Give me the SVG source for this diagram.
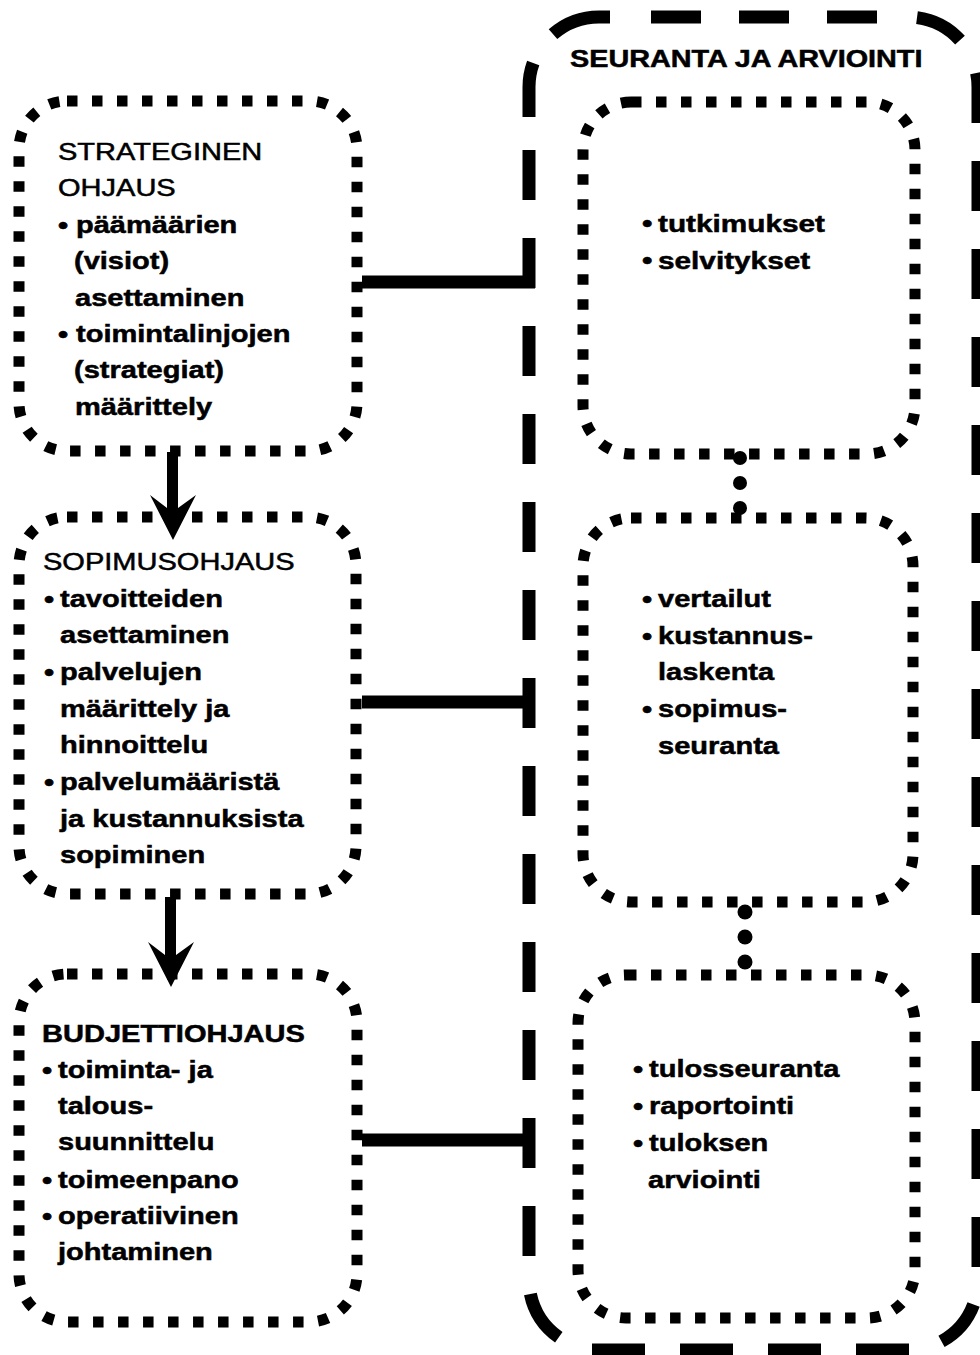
<svg xmlns="http://www.w3.org/2000/svg" width="980" height="1355" viewBox="0 0 980 1355">
<style>
text{font-family:"Liberation Sans",Arial,sans-serif;font-size:24px;fill:#000;stroke:#000;stroke-width:0.5}
.b{font-weight:bold}
.dot{fill:none;stroke:#000;stroke-width:11;stroke-dasharray:10.5 14.5}
.big{fill:none;stroke:#000;stroke-width:13}
.bd{stroke-dasharray:50 38}
.ln{stroke:#000;stroke-width:13;fill:none}
</style>
<rect width="980" height="1355" fill="#fff"/>
<g id="seuranta-ja-arviointi">
<line class="big bd" x1="529" y1="150" x2="529" y2="1256"/>
<path class="big" d="M529,117 L529,87 A70,70 0 0 1 533.2,63"/>
<path class="big" d="M553,34.2 A70,70 0 0 1 599,17 L610,17"/>
<line class="big bd" x1="651" y1="17" x2="879" y2="17"/>
<path class="big" d="M917,17.6 A70,70 0 0 1 960,40.2"/>
<path class="big" d="M976.6,73 A70,70 0 0 1 978,87 L978,123"/>
<line class="big bd" x1="978" y1="161" x2="978" y2="1267"/>
<path class="big" d="M973.6,1304.5 A70,70 0 0 1 941.5,1341.4"/>
<line class="big" x1="592" y1="1350" x2="915" y2="1350" stroke-dasharray="53 35"/>
<path class="big" d="M530.4,1294 A70,70 0 0 0 558.8,1337.3"/>
<text class="b" transform="matrix(1.2 0 0 1 570 67)">SEURANTA JA ARVIOINTI</text>
</g>
<g id="strateginen-ohjaus">
<rect class="dot" x="19" y="101" width="338" height="350" rx="48"/>
<text transform="matrix(1.21 0 0 1 58 160)">STRATEGINEN</text>
<text transform="matrix(1.21 0 0 1 58 196)">OHJAUS</text>
<text class="b" transform="matrix(1.21 0 0 1 58 233)">•</text>
<text class="b" transform="matrix(1.21 0 0 1 76 233)">päämäärien</text>
<text class="b" transform="matrix(1.21 0 0 1 74 269)">(visiot)</text>
<text class="b" transform="matrix(1.21 0 0 1 75 306)">asettaminen</text>
<text class="b" transform="matrix(1.21 0 0 1 58 342)">•</text>
<text class="b" transform="matrix(1.21 0 0 1 76 342)">toimintalinjojen</text>
<text class="b" transform="matrix(1.21 0 0 1 74 378)">(strategiat)</text>
<text class="b" transform="matrix(1.21 0 0 1 75 415)">määrittely</text>
</g>
<g id="sopimusohjaus">
<rect class="dot" x="19" y="517" width="337" height="377" rx="48"/>
<text transform="matrix(1.21 0 0 1 43 570)">SOPIMUSOHJAUS</text>
<text class="b" transform="matrix(1.21 0 0 1 44 607)">•</text>
<text class="b" transform="matrix(1.21 0 0 1 60 607)">tavoitteiden</text>
<text class="b" transform="matrix(1.21 0 0 1 60 643)">asettaminen</text>
<text class="b" transform="matrix(1.21 0 0 1 44 680)">•</text>
<text class="b" transform="matrix(1.21 0 0 1 60 680)">palvelujen</text>
<text class="b" transform="matrix(1.21 0 0 1 60 717)">määrittely ja</text>
<text class="b" transform="matrix(1.21 0 0 1 60 753)">hinnoittelu</text>
<text class="b" transform="matrix(1.21 0 0 1 44 790)">•</text>
<text class="b" transform="matrix(1.21 0 0 1 60 790)">palvelumääristä</text>
<text class="b" transform="matrix(1.21 0 0 1 60 827)">ja kustannuksista</text>
<text class="b" transform="matrix(1.21 0 0 1 60 863)">sopiminen</text>
</g>
<g id="budjettiohjaus">
<rect class="dot" x="19" y="974" width="338" height="348" rx="48"/>
<text class="b" transform="matrix(1.21 0 0 1 42 1042)">BUDJETTIOHJAUS</text>
<text class="b" transform="matrix(1.21 0 0 1 42 1078)">•</text>
<text class="b" transform="matrix(1.21 0 0 1 58 1078)">toiminta- ja</text>
<text class="b" transform="matrix(1.21 0 0 1 58 1114)">talous-</text>
<text class="b" transform="matrix(1.21 0 0 1 58 1150)">suunnittelu</text>
<text class="b" transform="matrix(1.21 0 0 1 42 1188)">•</text>
<text class="b" transform="matrix(1.21 0 0 1 58 1188)">toimeenpano</text>
<text class="b" transform="matrix(1.21 0 0 1 42 1224)">•</text>
<text class="b" transform="matrix(1.21 0 0 1 58 1224)">operatiivinen</text>
<text class="b" transform="matrix(1.21 0 0 1 58 1260)">johtaminen</text>
</g>
<g id="tutkimukset">
<rect class="dot" x="583" y="102" width="332" height="352" rx="48"/>
<text class="b" transform="matrix(1.24 0 0 1 642 232)">•</text>
<text class="b" transform="matrix(1.24 0 0 1 658 232)">tutkimukset</text>
<text class="b" transform="matrix(1.24 0 0 1 642 269)">•</text>
<text class="b" transform="matrix(1.24 0 0 1 658 269)">selvitykset</text>
</g>
<g id="vertailut">
<rect class="dot" x="583" y="518" width="330" height="384" rx="48"/>
<text class="b" transform="matrix(1.21 0 0 1 642 607)">•</text>
<text class="b" transform="matrix(1.21 0 0 1 658 607)">vertailut</text>
<text class="b" transform="matrix(1.21 0 0 1 642 644)">•</text>
<text class="b" transform="matrix(1.21 0 0 1 658 644)">kustannus-</text>
<text class="b" transform="matrix(1.21 0 0 1 658 680)">laskenta</text>
<text class="b" transform="matrix(1.21 0 0 1 642 717)">•</text>
<text class="b" transform="matrix(1.21 0 0 1 658 717)">sopimus-</text>
<text class="b" transform="matrix(1.21 0 0 1 658 754)">seuranta</text>
</g>
<g id="tulosseuranta">
<rect class="dot" x="578" y="975" width="337" height="343" rx="48"/>
<text class="b" transform="matrix(1.21 0 0 1 633 1077)">•</text>
<text class="b" transform="matrix(1.21 0 0 1 649 1077)">tulosseuranta</text>
<text class="b" transform="matrix(1.21 0 0 1 633 1114)">•</text>
<text class="b" transform="matrix(1.21 0 0 1 649 1114)">raportointi</text>
<text class="b" transform="matrix(1.21 0 0 1 633 1151)">•</text>
<text class="b" transform="matrix(1.21 0 0 1 649 1151)">tuloksen</text>
<text class="b" transform="matrix(1.21 0 0 1 648 1188)">arviointi</text>
</g>
<g id="connectors">
<line class="ln" x1="362" y1="282" x2="535" y2="282"/>
<line class="ln" x1="362" y1="702" x2="535" y2="702" stroke-width="14"/>
<line class="ln" x1="362" y1="1140" x2="535" y2="1140" stroke-width="14"/>
<path d="M167,452 L178,452 L178,508 L196,495 L173,540 L150,495 L167,508 Z" fill="#000"/>
<path d="M165,897 L176,897 L176,955 L194,942 L171,987 L148,942 L165,955 Z" fill="#000"/>
<circle cx="740" cy="458" r="7" fill="#000"/>
<circle cx="740" cy="483" r="7" fill="#000"/>
<circle cx="740" cy="508" r="7" fill="#000"/>
<circle cx="745" cy="912" r="7.5" fill="#000"/>
<circle cx="745" cy="937" r="7.5" fill="#000"/>
<circle cx="745" cy="962" r="7.5" fill="#000"/>
</g>
</svg>
